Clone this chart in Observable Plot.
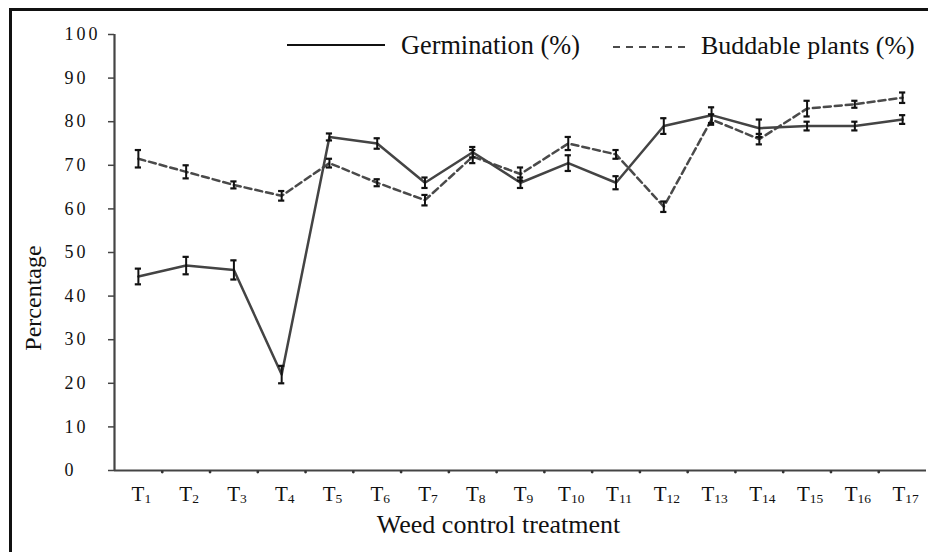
<!DOCTYPE html>
<html><head><meta charset="utf-8">
<script src="https://cdn.jsdelivr.net/npm/d3@7"></script>
<script src="https://cdn.jsdelivr.net/npm/@observablehq/plot@0.6"></script>
<style>
html,body{margin:0;padding:0;background:#fff;}
#wrap{position:relative;width:928px;height:552px;overflow:hidden;font-family:"Liberation Serif","Times New Roman",serif;}
#chart{position:absolute;left:0;top:0;}
#legend{position:absolute;left:0;top:0;font-family:"Liberation Serif","Times New Roman",serif;}
#frame{position:absolute;left:9px;top:8px;width:940px;height:560px;border-left:3px solid #111;border-top:3px solid #111;pointer-events:none;}
#chart svg text{font-family:"Liberation Serif","Times New Roman",serif;}
</style></head><body>
<div id="wrap"><div id="chart"></div>
<svg id="legend" width="928" height="552">
  <line x1="287" x2="385" y1="45" y2="45" stroke="#111" stroke-width="2"/>
  <text x="401" y="54" font-size="26.3" fill="#111">Germination (%)</text>
  <line x1="613" x2="690" y1="47" y2="47" stroke="#111" stroke-width="1.5" stroke-dasharray="7,6"/>
  <text x="701" y="54" font-size="26" fill="#111">Buddable plants (%)</text>
  <text transform="translate(41,298) rotate(-90)" text-anchor="middle" font-size="24" fill="#111">Percentage</text>
</svg>
<div id="frame"></div></div>
<script>
const categories = ["T1","T2","T3","T4","T5","T6","T7","T8","T9","T10","T11","T12","T13","T14","T15","T16","T17"];
const germination = [44.5,47,46,22,76.5,75,66,73,66,70.5,66,79,81.5,78.5,79,79,80.5];
const germinationErr = [1.8,2.0,2.2,2.0,0.8,1.2,1.2,1.2,1.2,1.8,1.5,1.8,1.8,2.0,1.0,1.0,1.0];
const buddable = [71.5,68.5,65.5,63,70.5,66,62,72,68,75,72.5,60.5,80.5,76,83,84,85.5];
const buddableErr = [2.0,1.5,0.8,1.1,1.0,0.8,1.2,1.5,1.5,1.5,1.0,1.2,1.2,1.2,1.8,0.8,1.2];
const yTicks = [0,10,20,30,40,50,60,70,80,90,100];

const rows = categories.map((c, i) => ({
  c, i, pos: i + 0.5,
  g: germination[i], ge: germinationErr[i],
  b: buddable[i], be: buddableErr[i]
}));
const boundaries = d3.range(1, categories.length);
const font = '"Liberation Serif", "Times New Roman", serif';
const capW = 0.065;

function errorMarks(v, e) {
  return [
    Plot.ruleX(rows, {x: "pos", y1: d => d[v] - d[e], y2: d => d[v] + d[e], stroke: "#111", strokeWidth: 2}),
    Plot.ruleY(rows, {x1: d => d.pos - capW, x2: d => d.pos + capW, y: d => d[v] + d[e], stroke: "#111", strokeWidth: 2.2}),
    Plot.ruleY(rows, {x1: d => d.pos - capW, x2: d => d.pos + capW, y: d => d[v] - d[e], stroke: "#111", strokeWidth: 2.2})
  ];
}

const chart = Plot.plot({
  width: 928, height: 552,
  marginLeft: 114, marginRight: 2, marginTop: 34, marginBottom: 82,
  style: {fontFamily: font, background: "transparent", overflow: "visible", color: "#111"},
  x: {type: "linear", domain: [0, categories.length], axis: null},
  y: {domain: [0, 100], axis: null},
  marks: [
    Plot.ruleX([0], {stroke: "#444", strokeWidth: 2.2}),
    Plot.ruleY([0], {stroke: "#444", strokeWidth: 2.2}),
    Plot.axisY({ticks: yTicks, tickSize: 6, tickPadding: 44, textAnchor: "start", label: null,
      stroke: "#444", strokeWidth: 1.5, fontSize: 18, fill: "#111", tickFormat: d => String(d)}),
    Plot.dot(boundaries, {x: d => d, y: 0, r: 1.4, fill: "#333", stroke: null, dy: 1.5}),
    Plot.line(rows, {x: "pos", y: "b", stroke: "#4a4a4a", strokeWidth: 2.5, strokeDasharray: "7,4"}),
    Plot.line(rows, {x: "pos", y: "g", stroke: "#444", strokeWidth: 2.5}),
    ...errorMarks("b", "be"),
    ...errorMarks("g", "ge"),
    Plot.text(rows, {x: "pos", y: 0, text: "c", textAnchor: "middle", dx: 3, dy: 24, fontSize: 21, fill: "#111"}),
    Plot.text(["Weed control treatment"], {frameAnchor: "bottom", dx: -22, dy: 62, fontSize: 26, fill: "#111"})
  ]
});
d3.select(chart).selectAll('g[aria-label="y-axis tick label"] text').attr("letter-spacing", "3px");
d3.select(chart).selectAll("text").each(function() {
  const s = this.textContent;
  if (!/^T\d+$/.test(s)) return;
  const el = d3.select(this);
  el.text(s.charAt(0));
  el.append("tspan").attr("font-size", 13.5).attr("dy", "0.12em").text(s.slice(1));
});
document.getElementById("chart").appendChild(chart);
</script>
</body></html>
